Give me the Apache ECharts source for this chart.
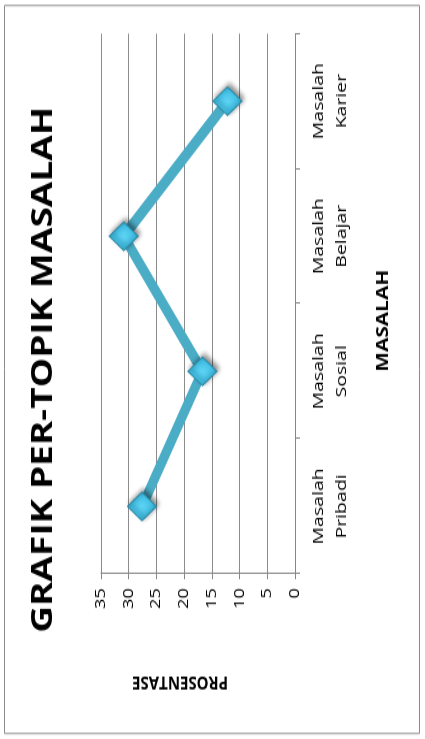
<!DOCTYPE html>
<html><head><meta charset="utf-8">
<script src="https://cdn.jsdelivr.net/npm/echarts@6/dist/echarts.min.js"></script>
<style>html,body{margin:0;padding:0;background:#fff;overflow:hidden;width:425px;height:739px}
#c{position:absolute;left:0;top:0;width:568.46px;height:425px;transform-origin:0 0;transform:translate(0,739px) rotate(-90deg) scale(1.3,1);}
</style></head>
<body><div id="c"></div>
<script>
var categories = ['Masalah\nPribadi', 'Masalah\nSosial', 'Masalah\nBelajar', 'Masalah\nKarier'];
var values = [27.6, 16.7, 30.9, 12.2];
var valueTicks = {min: 0, max: 35, interval: 5};
var titleText = 'GRAFIK PER-TOPIK MASALAH';
var xName = 'MASALAH';
var yName = 'PROSENTASE';

var S = 1.3; // horizontal stretch of the (unrotated) chart
var chart = echarts.init(document.getElementById('c'), null, {renderer: 'canvas'});
chart.setOption({
  animation: false,
  backgroundColor: '#fff',
  title: {
    text: titleText, left: 'center', top: 24,
    textStyle: {fontFamily: 'Open Sans', fontWeight: 'bold', fontSize: 28.5, color: '#000'}
  },
  graphic: [{type: 'rect', shape: {x: 5.5 / S, y: 4.5, width: 728 / S, height: 415}, style: {fill: 'none', stroke: '#8c8c8c', lineWidth: 1}}],
  grid: {left: 165 / S, right: 33 / S, top: 101, bottom: 130},
  xAxis: {
    type: 'category', data: categories, boundaryGap: true,
    name: xName, nameLocation: 'middle', nameGap: 80,
    nameTextStyle: {fontFamily: 'Open Sans', fontWeight: 'bold', fontSize: 16, color: '#000', padding: [0, 26, 0, 0]},
    axisLine: {lineStyle: {color: '#868686', width: 1}},
    axisTick: {show: true, alignWithLabel: false, length: 5, lineStyle: {color: '#868686'}},
    axisLabel: {fontFamily: 'Open Sans', fontSize: 15, color: '#000', lineHeight: 23, margin: 12}
  },
  yAxis: {
    type: 'value', min: valueTicks.min, max: valueTicks.max, interval: valueTicks.interval,
    name: yName, nameLocation: 'middle', nameGap: 76, nameRotate: 90,
    nameTextStyle: {fontFamily: 'Open Sans', fontWeight: 'bold', fontSize: 15, color: '#000', padding: [0, 0, 0, 36]},
    axisLine: {show: true, lineStyle: {color: '#868686', width: 1}},
    axisTick: {show: true, length: 4, lineStyle: {color: '#868686'}},
    axisLabel: {fontFamily: 'Open Sans', fontSize: 14, color: '#000', margin: 11},
    splitLine: {show: true, lineStyle: {color: '#8c8c8c', width: 1}}
  },
  series: [{
    type: 'line', data: values,
    lineStyle: {color: '#4BACC6', width: 9},
    symbol: 'diamond', symbolSize: [22, 29],
    itemStyle: {
      color: {type: 'radial', x: 0.5, y: 0.5, r: 0.6, colorStops: [{offset: 0, color: '#5fd3f3'}, {offset: 0.6, color: '#3fc0e6'}, {offset: 1, color: '#2a8fb0'}]},
      borderColor: '#2b8aa8', borderWidth: 1,
      shadowColor: 'rgba(0,0,0,0.45)', shadowBlur: 4, shadowOffsetX: 2, shadowOffsetY: 2
    },
    z: 3
  }]
});
</script></body></html>
